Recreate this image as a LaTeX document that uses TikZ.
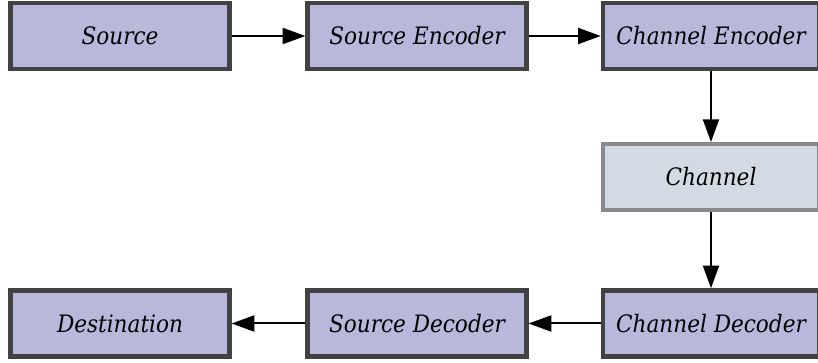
\documentclass[tikz,border=0pt]{standalone}
\usepackage{tikz}
\usepackage{fontspec}
\usetikzlibrary{arrows.meta}

\newfontfamily\labelfont{DejaVu Serif Condensed Italic}

\definecolor{boxfill}{RGB}{184,184,219}
\definecolor{boxline}{RGB}{66,66,66}
\definecolor{chanfill}{RGB}{210,219,227}
\definecolor{chanline}{RGB}{138,138,142}

\tikzset{
  block/.style={draw=boxline, line width=3.4pt, fill=boxfill, rectangle,
    minimum width=164pt, minimum height=49.5pt, inner sep=0pt,
    font=\labelfont\fontsize{18}{22}\selectfont},
  chanbox/.style={block, draw=chanline, fill=chanfill, line width=3pt},
  flow/.style={line width=1.5pt, -{Triangle[length=17pt,width=12pt]}}
}

\begin{document}
\begin{tikzpicture}[x=0.75pt,y=0.75pt,yscale=-1,xscale=1]
		\useasboundingbox (0,0) rectangle (818,363);
		
		% top row
		\node [block] (src) at (120,36) {Source};
		\node [block] (senc) at (417,36) {Source Encoder};
		\node [block, minimum width=162pt] (cenc) at (711,36) {Channel Encoder};
		
		% channel
		\node [chanbox, minimum width=162pt] (chan) at (711,177) {Channel};
		
		% bottom row
		\node [block] (dst) at (120,323.5) {Destination};
		\node [block] (sdec) at (417,323.5) {Source Decoder};
		\node [block, minimum width=162pt] (cdec) at (711,323.5) {Channel Decoder};
		
		\draw [flow] (src) -- (senc);
		\draw [flow] (senc) -- (cenc);
		\draw [flow] (cenc) -- (chan);
		\draw [flow] (chan) -- (cdec);
		\draw [flow] (cdec) -- (sdec);
		\draw [flow] (sdec) -- (dst);
		
\end{tikzpicture}
\end{document}
